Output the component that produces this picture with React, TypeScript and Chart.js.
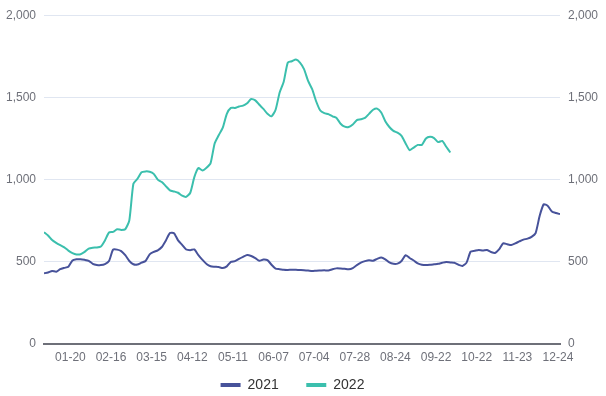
import React, { useEffect, useRef } from "react";
import { Chart, registerables } from "chart.js";

Chart.register(...registerables);

const seriesNames = ["2021", "2022"];
const seriesColors = ["#47529A", "#3BBFAD"];

// one value every 2 trading-day steps
const xStep = 2;

const values2021 = [
  430, 435, 444, 440, 455, 463, 470, 508, 515, 516,
  512, 506, 488, 481, 480, 486, 505, 574, 574, 565,
  540, 505, 485, 483, 495, 505, 545, 560, 570, 590,
  630, 675, 674, 630, 603, 575, 571, 575, 540, 512,
  487, 473, 470, 468, 462, 472, 500, 504, 518, 530,
  541, 535, 522, 506, 514, 510, 482, 458, 455, 451,
  450, 452, 451, 450, 449, 447, 444, 446, 447, 448,
  447, 455, 460, 459, 457, 454, 462, 480, 495, 504,
  510, 507, 518, 526, 515, 496, 488, 489, 505, 540,
  523, 508, 490, 482, 480, 482, 485, 488, 494, 499,
  496, 494, 482, 475, 495, 562, 567, 572, 568, 572,
  560, 554, 575, 612, 607, 602, 612, 624, 635, 641,
  652, 675, 780, 850, 840, 806, 797, 790,
];

const values2022 = [
  680, 660, 632, 615, 601, 588, 568, 553, 545, 546,
  560, 580, 586, 587, 593, 630, 678, 682, 698, 694,
  698, 752, 975, 1005, 1045, 1050, 1048, 1035, 1000, 985,
  960, 935, 928, 920, 902, 895, 920, 1015, 1070, 1055,
  1072, 1100, 1220, 1270, 1316, 1400, 1436, 1436, 1445, 1450,
  1465, 1490, 1482, 1455, 1430, 1400, 1385, 1425, 1530, 1595,
  1712, 1720, 1730, 1712, 1672, 1600, 1550, 1475, 1420, 1404,
  1398, 1385, 1375, 1340, 1322, 1320, 1335, 1362, 1367, 1375,
  1400, 1425, 1432, 1408, 1355, 1320, 1296, 1286, 1266, 1220,
  1179, 1195, 1211, 1211, 1250, 1260, 1252, 1228, 1235, 1200,
  1165,
];

const tickLabels = [
  "01-20", "02-16", "03-15", "04-12", "05-11", "06-07", "07-04",
  "07-28", "08-24", "09-22", "10-22", "11-23", "12-24",
];
const tickPositions = [13, 33, 53, 73, 93, 113, 133, 153, 173, 193, 213, 233, 253];

const xMax = 254;
const yMin = 0;
const yMax = 2000;
const yStep = 500;

const FONT = "'Liberation Sans', Arial, sans-serif";
const AXIS_TEXT = "#6E7079";

export default function App() {
  const ref = useRef<HTMLCanvasElement | null>(null);

  useEffect(() => {
    if (!ref.current) return;
    Chart.defaults.font.family = FONT;
    const toPoints = (arr: number[]) => arr.map((v, i) => ({ x: i * xStep, y: v }));
    const yTickCb = (v: any) => Number(v).toLocaleString("en-US");

    const chart = new Chart(ref.current, {
      type: "line",
      data: {
        datasets: [
          {
            label: seriesNames[0],
            data: toPoints(values2021),
            borderColor: seriesColors[0],
            backgroundColor: seriesColors[0],
            borderWidth: 2,
            pointRadius: 0,
            tension: 0.2,
            yAxisID: "y",
          },
          {
            label: seriesNames[1],
            data: toPoints(values2022),
            borderColor: seriesColors[1],
            backgroundColor: seriesColors[1],
            borderWidth: 2,
            pointRadius: 0,
            tension: 0.2,
            yAxisID: "y",
          },
        ],
      },
      options: {
        responsive: false,
        animation: false,
        layout: { padding: { top: 13, left: -21, right: 0, bottom: -6 } },
        plugins: {
          tooltip: { enabled: false },
          legend: {
            position: "bottom",
            labels: {
              usePointStyle: true,
              pointStyle: "line",
              pointStyleWidth: 20,
              padding: 12,
              color: "#333333",
              font: { size: 14, family: FONT },
              generateLabels: (c: any) =>
                Chart.defaults.plugins.legend.labels
                  .generateLabels(c)
                  .map((it: any, i: number) => ({
                    ...it,
                    text: i === 0 ? it.text + "    " : it.text,
                    lineWidth: 4,
                    pointStyle: "line",
                  })),
            },
          },
        },
        scales: {
          x: {
            type: "linear",
            min: 0,
            max: xMax,
            afterBuildTicks: (scale: any) => {
              scale.ticks = tickPositions.map((v) => ({ value: v }));
            },
            afterFit: (scale: any) => {
              scale.height = 22;
            },
            ticks: {
              autoSkip: false,
              maxRotation: 0,
              padding: 6,
              color: AXIS_TEXT,
              font: { size: 12, family: FONT },
              callback: (_v: any, i: number) => tickLabels[i],
            },
            grid: { display: false, drawTicks: false },
            border: { display: true, color: "#6E7079", width: 2 },
          },
          y: {
            position: "left",
            min: yMin,
            max: yMax,
            afterFit: (scale: any) => {
              scale.width = 65;
            },
            ticks: {
              stepSize: yStep,
              padding: 8,
              color: AXIS_TEXT,
              font: { size: 12, family: FONT },
              callback: yTickCb,
            },
            grid: { color: "#E0E6F1", lineWidth: 1, drawTicks: false },
            border: { display: false },
          },
          y1: {
            position: "right",
            min: yMin,
            max: yMax,
            afterFit: (scale: any) => {
              scale.width = 46;
            },
            ticks: {
              stepSize: yStep,
              padding: 8,
              color: AXIS_TEXT,
              font: { size: 12, family: FONT },
              callback: yTickCb,
            },
            grid: { display: false, drawTicks: false },
            border: { display: false },
          },
        },
      },
    } as any);

    return () => chart.destroy();
  }, []);

  return (
    <div
      style={{
        position: "absolute",
        left: 0,
        top: 0,
        width: 606,
        height: 396,
        background: "#ffffff",
        overflow: "hidden",
      }}
    >
      <canvas ref={ref} width={606} height={396} style={{ display: "block" }} />
    </div>
  );
}
